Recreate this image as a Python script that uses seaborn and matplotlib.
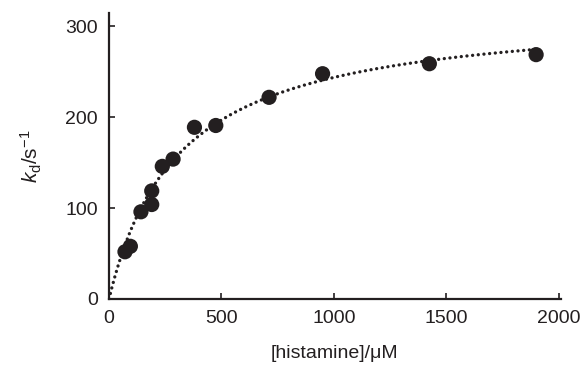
import numpy as np
import pandas as pd
import matplotlib
matplotlib.use("Agg")
import matplotlib.pyplot as plt
import seaborn as sns

# data
histamine_uM = [71, 95, 142, 190, 190, 237, 285, 380, 475, 712, 950, 1425, 1900]
kd_per_s = [52, 58, 96, 104, 119, 146, 154, 189, 191, 222, 248, 259, 269]
# hyperbolic fit parameters (kmax, K)
fit_kmax = 320.0
fit_K = 312.0
x_ticks = [0, 500, 1000, 1500, 2000]
y_ticks = [0, 100, 200, 300]

sns.set_theme(style="ticks")
plt.rcParams['font.family'] = ['Liberation Sans', 'DejaVu Sans']
plt.rcParams['mathtext.fontset'] = 'custom'
plt.rcParams['mathtext.rm'] = 'Liberation Sans'
plt.rcParams['mathtext.it'] = 'Liberation Sans:italic'

ink = '#231f20'
fig = plt.figure(figsize=(5.83, 3.78), dpi=100)
ax = fig.add_axes([0.187, 0.209, 0.775, 0.757])

df = pd.DataFrame({'x': histamine_uM, 'y': kd_per_s})
xf = np.linspace(0, max(histamine_uM), 300)
fit = pd.DataFrame({'x': xf, 'y': fit_kmax * xf / (fit_K + xf)})

sns.lineplot(data=fit, x='x', y='y', ax=ax, color=ink, lw=2.4,
             linestyle=(0, (0.01, 1.7)), dash_capstyle='round')
sns.scatterplot(data=df, x='x', y='y', ax=ax, color=ink, s=120,
                edgecolor='none', zorder=3)

ax.set_xlim(0, 2010)
ax.set_ylim(0, 315)
ax.set_xticks(x_ticks)
ax.set_yticks(y_ticks)
ax.tick_params(direction='in', length=4, width=1.2, labelsize=14,
               colors=ink, pad=8)
for s in ['top', 'right']:
    ax.spines[s].set_visible(False)
for s in ['left', 'bottom']:
    ax.spines[s].set_linewidth(1.6)
    ax.spines[s].set_color(ink)

ax.set_xlabel('[histamine]/μM', fontsize=14, color=ink, labelpad=13)
ax.set_ylabel(r'$\mathit{k}_{\mathrm{d}}\mathrm{/s}^{\mathrm{-1}}$', fontsize=15,
              color=ink, labelpad=15)

fig.savefig('out.png', dpi=100)
